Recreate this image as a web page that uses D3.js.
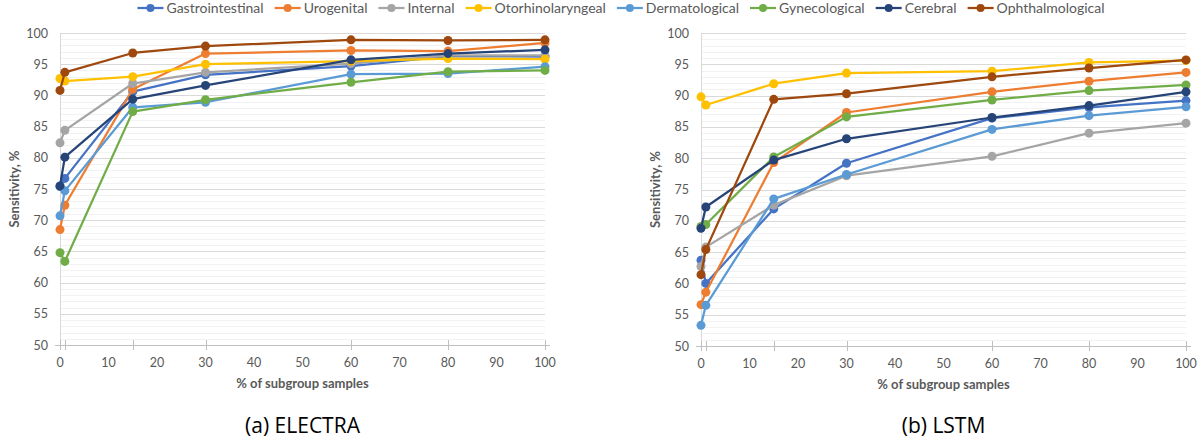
<!DOCTYPE html>
<html>
  <head>
    <script type="text/javascript" src="https://d3js.org/d3.v7.min.js"></script>
    <style>
      body {
        margin: 0;
        background: #fff;
      }
      svg text {
        font-family: Lato, 'Open Sans', sans-serif;
        fill: #595959;
      }
      .tick-label {
        font-size: 12.5px;
      }
      .axis-title {
        font-size: 13px;
        font-weight: bold;
      }
      .legend-text {
        font-size: 14px;
      }
      .caption {
        font-family: 'Open Sans', sans-serif !important;
        font-size: 21px;
        fill: #000 !important;
      }
    </style>
  </head>
  <body>
    <svg id="chart" width="1204" height="443"></svg>

    <script type="text/javascript">
      // x positions (% of subgroup samples)
      var xValues = [0, 1, 15, 30, 60, 80, 100];
      var xLabels = [0, 10, 20, 30, 40, 50, 60, 70, 80, 90, 100];
      var yLabels = [50, 55, 60, 65, 70, 75, 80, 85, 90, 95, 100];

      var seriesNames = ['Gastrointestinal', 'Urogenital', 'Internal', 'Otorhinolaryngeal',
        'Dermatological', 'Gynecological', 'Cerebral', 'Ophthalmological'];
      var seriesColors = ['#4472C4', '#ED7D31', '#A5A5A5', '#FFC000',
        '#5B9BD5', '#70AD47', '#264478', '#9E480E'];

      // (a) ELECTRA
      var electraGastro = [75.4, 76.7, 90.6, 93.3, 94.7, 96.3, 96.2];
      var electraUro = [68.5, 72.4, 91.0, 96.7, 97.2, 97.1, 98.4];
      var electraInternal = [82.4, 84.4, 91.9, 93.7, 95.1, 96.4, 96.4];
      var electraOto = [92.7, 92.3, 93.0, 95.0, 95.5, 95.9, 95.8];
      var electraDerm = [70.7, 74.7, 88.1, 88.9, 93.4, 93.5, 94.6];
      var electraGyn = [64.8, 63.4, 87.4, 89.3, 92.1, 93.8, 94.0];
      var electraCerebral = [75.5, 80.1, 89.4, 91.6, 95.7, 96.7, 97.3];
      var electraOphth = [90.8, 93.7, 96.8, 97.9, 98.9, 98.8, 98.9];

      // (b) LSTM
      var lstmGastro = [63.7, 60.0, 71.9, 79.2, 86.4, 88.1, 89.2];
      var lstmUro = [56.6, 58.6, 79.3, 87.3, 90.6, 92.3, 93.7];
      var lstmInternal = [62.7, 65.8, 72.5, 77.2, 80.3, 84.0, 85.6];
      var lstmOto = [89.8, 88.5, 91.9, 93.6, 93.9, 95.3, 95.6];
      var lstmDerm = [53.3, 56.5, 73.5, 77.4, 84.6, 86.8, 88.2];
      var lstmGyn = [69.1, 69.4, 80.2, 86.6, 89.3, 90.8, 91.7];
      var lstmCerebral = [68.8, 72.2, 79.7, 83.1, 86.5, 88.4, 90.6];
      var lstmOphth = [61.4, 65.4, 89.4, 90.3, 93.0, 94.4, 95.7];

      var electraSeries = [electraGastro, electraUro, electraInternal, electraOto,
        electraDerm, electraGyn, electraCerebral, electraOphth];
      var lstmSeries = [lstmGastro, lstmUro, lstmInternal, lstmOto,
        lstmDerm, lstmGyn, lstmCerebral, lstmOphth];

      var svg = d3.select('#chart');

      // draw one panel
      function drawPanel(left, right, top, bottom, series, caption) {
        var g = svg.append('g');
        var xScale = d3.scaleLinear().domain([0, 100]).range([left, right]);
        var yScale = d3.scaleLinear().domain([50, 100]).range([bottom, top]);

        // minor gridlines every 1, major every 5
        var minor = d3.range(51, 100).filter(function (v) { return v % 5 !== 0; });
        g.selectAll('.minor')
          .data(minor)
          .enter()
          .append('line')
          .attr('x1', left)
          .attr('x2', right)
          .attr('y1', function (d) { return Math.round(yScale(d)) + 0.5; })
          .attr('y2', function (d) { return Math.round(yScale(d)) + 0.5; })
          .attr('stroke', '#f2f2f2')
          .attr('stroke-width', 1);
        g.selectAll('.major')
          .data(yLabels.slice(1))
          .enter()
          .append('line')
          .attr('x1', left)
          .attr('x2', right)
          .attr('y1', function (d) { return Math.round(yScale(d)) + 0.5; })
          .attr('y2', function (d) { return Math.round(yScale(d)) + 0.5; })
          .attr('stroke', '#d9d9d9')
          .attr('stroke-width', 1);

        // y axis line
        g.append('line')
          .attr('x1', left + 0.5).attr('x2', left + 0.5)
          .attr('y1', top).attr('y2', bottom)
          .attr('stroke', '#d9d9d9');
        // x axis line
        g.append('line')
          .attr('x1', left - 5).attr('x2', right + 5)
          .attr('y1', Math.round(bottom) + 0.5).attr('y2', Math.round(bottom) + 0.5)
          .attr('stroke', '#bfbfbf');
        // cross ticks at data positions
        g.selectAll('.xtick')
          .data(xValues)
          .enter()
          .append('line')
          .attr('x1', function (d) { return Math.round(xScale(d)) + 0.5; })
          .attr('x2', function (d) { return Math.round(xScale(d)) + 0.5; })
          .attr('y1', bottom - 5)
          .attr('y2', bottom + 5)
          .attr('stroke', '#bfbfbf');

        // tick labels
        g.selectAll('.xlab')
          .data(xLabels)
          .enter()
          .append('text')
          .attr('class', 'tick-label')
          .attr('x', function (d) { return xScale(d); })
          .attr('y', bottom + 22)
          .attr('text-anchor', 'middle')
          .text(function (d) { return d; });
        g.selectAll('.ylab')
          .data(yLabels)
          .enter()
          .append('text')
          .attr('class', 'tick-label')
          .attr('x', left - 12)
          .attr('y', function (d) { return yScale(d) + 4.5; })
          .attr('text-anchor', 'end')
          .text(function (d) { return d; });

        // axis titles
        g.append('text')
          .attr('class', 'axis-title')
          .attr('transform', 'translate(' + (left - 41) + ',' + ((top + bottom) / 2) + ') rotate(-90)')
          .attr('text-anchor', 'middle')
          .text('Sensitivity, %');
        g.append('text')
          .attr('class', 'axis-title')
          .attr('x', (left + right) / 2)
          .attr('y', bottom + 43)
          .attr('text-anchor', 'middle')
          .text('% of subgroup samples');

        // lines and markers
        var line = d3.line()
          .x(function (d, i) { return xScale(xValues[i]); })
          .y(function (d) { return yScale(d); });
        series.forEach(function (vals, s) {
          g.append('path')
            .attr('d', line(vals))
            .attr('fill', 'none')
            .attr('stroke', seriesColors[s])
            .attr('stroke-width', 2.25)
            .attr('stroke-linejoin', 'round');
          g.selectAll('.dot' + s)
            .data(vals)
            .enter()
            .append('circle')
            .attr('cx', function (d, i) { return xScale(xValues[i]); })
            .attr('cy', function (d) { return yScale(d); })
            .attr('r', 4.5)
            .attr('fill', seriesColors[s]);
        });

        // caption
        g.append('text')
          .attr('class', 'caption')
          .attr('x', (left + right) / 2)
          .attr('y', 433)
          .attr('text-anchor', 'middle')
          .text(caption);
      }

      drawPanel(60, 545, 33, 345, electraSeries, '(a) ELECTRA');
      drawPanel(701, 1186, 33, 346, lstmSeries, '(b) LSTM');

      // legend, centred at top
      var legend = svg.append('g');
      var cursor = 0;
      seriesNames.forEach(function (name, i) {
        var item = legend.append('g').attr('transform', 'translate(' + cursor + ',0)');
        item.append('line')
          .attr('x1', 0).attr('x2', 26)
          .attr('y1', 8).attr('y2', 8)
          .attr('stroke', seriesColors[i])
          .attr('stroke-width', 2.25);
        item.append('circle')
          .attr('cx', 13).attr('cy', 8).attr('r', 4)
          .attr('fill', seriesColors[i]);
        var t = item.append('text')
          .attr('class', 'legend-text')
          .attr('x', 29)
          .attr('y', 13)
          .text(name);
        cursor += 29 + t.node().getComputedTextLength() + 11;
      });
      var legendWidth = cursor - 11;
      legend.attr('transform', 'translate(' + (621 - legendWidth / 2) + ',0)');
    </script>
  </body>
</html>
